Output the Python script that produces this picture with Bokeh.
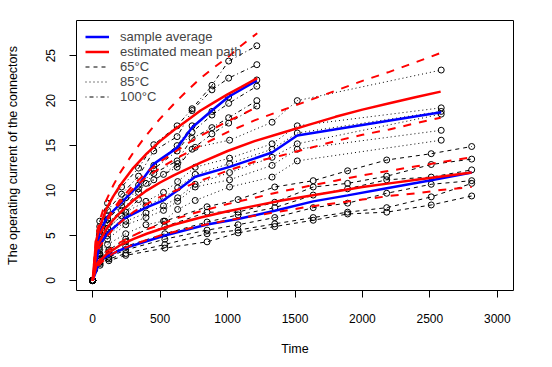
import numpy as np
from bokeh.plotting import figure
from bokeh.models import Range1d, FixedTicker, Legend, LegendItem
from bokeh.embed import file_html
from bokeh.resources import INLINE

# ---------------- data ----------------
# 100 degC units (dot-dash), measurement times
t100 = [0, 52, 110, 214, 340, 453, 626, 737, 884, 1008, 1217]
u100_a = [0, 6.6, 8.6, 10.4, 12.5, 15.1, 17.2, 19.1, 21.7, 24.4, 26.1]
u100_b = [0, 6.0, 7.8, 9.6, 11.6, 14.4, 16.0, 18.9, 21.2, 22.5, 24.0]
u100_c = [0, 5.5, 7.2, 8.7, 10.6, 12.8, 15.0, 17.2, 18.8, 20.4, 22.3]
u100_d = [0, 5.2, 6.8, 8.3, 10.2, 12.4, 14.4, 16.5, 18.4, 19.7, 21.6]
u100_e = [0, 4.9, 6.4, 7.8, 9.8, 11.9, 13.3, 15.8, 17.0, 18.1, 20.0]
u100_f = [0, 4.4, 5.8, 7.2, 9.0, 11.2, 12.6, 14.6, 16.3, 17.5, 19.4]

# 85 degC units (dotted)
t85 = [0, 50, 110, 245, 395, 525, 630, 760, 1015, 1330, 1517, 2584]
u85_a = [0, 5.0, 6.8, 9.2, 10.8, 11.8, 13.0, 14.8, 15.6, 17.6, 20.0, 23.4]
u85_b = [0, 4.4, 5.8, 7.6, 8.8, 9.8, 11.0, 12.6, 13.6, 15.2, 17.2, 19.2]
u85_c = [0, 4.0, 5.4, 7.2, 8.3, 9.2, 10.3, 11.8, 13.0, 14.6, 16.4, 18.8]
u85_d = [0, 3.7, 5.0, 6.6, 7.5, 8.3, 9.2, 10.7, 12.0, 13.7, 15.2, 18.5]
u85_e = [0, 3.4, 4.6, 6.2, 7.0, 7.8, 8.8, 10.4, 11.2, 12.8, 14.6, 16.7]
u85_f = [0, 3.0, 4.0, 5.2, 6.2, 6.6, 7.9, 8.9, 10.4, 11.5, 13.3, 15.6]

# 65 degC units (dashed)
t65 = [0, 55, 120, 245, 535, 848, 1078, 1350, 1635, 1890, 2180, 2510, 2810]
u65_a = [0, 2.9, 3.4, 4.6, 6.6, 8.2, 9.0, 10.4, 11.1, 12.2, 13.4, 14.1, 14.9]
u65_b = [0, 2.7, 3.2, 4.3, 6.0, 7.6, 7.6, 8.7, 10.4, 10.8, 11.6, 12.9, 13.5]
u65_c = [0, 2.4, 2.9, 3.8, 5.2, 6.5, 7.3, 8.1, 9.5, 10.2, 11.2, 11.5, 12.3]
u65_d = [0, 2.2, 2.6, 3.4, 4.6, 5.6, 6.2, 7.0, 8.1, 8.6, 9.7, 10.7, 11.1]
u65_e = [0, 1.9, 2.4, 3.0, 4.0, 5.2, 5.6, 6.3, 7.0, 7.6, 8.1, 9.3, 10.8]
u65_f = [0, 1.7, 2.2, 2.8, 3.6, 4.3, 5.3, 6.0, 6.7, 7.4, 7.6, 8.4, 9.4]

# estimated mean paths (red solid) and bands (red dashed)
g100 = [0, 25, 50, 100, 150, 200, 300, 400, 500, 600, 700, 800, 900, 1000, 1100, 1220]
m100 = [0, 4.4, 5.9, 7.9, 9.3, 10.5, 12.5, 14.1, 15.5, 16.7, 17.8, 18.9, 19.8, 20.7, 21.5, 22.5]
up100 = [0, 4.9, 6.6, 8.9, 10.5, 11.9, 14.2, 16.2, 18.0, 19.6, 21.1, 22.5, 23.7, 24.8, 26.1, 27.5]
lo100 = [0, 3.7, 5.0, 6.7, 7.9, 8.9, 10.6, 12.0, 13.2, 14.2, 15.2, 16.1, 16.9, 17.7, 18.4, 19.3]

g85 = [0, 25, 50, 100, 150, 200, 300, 400, 500, 600, 800, 1000, 1200, 1400, 1600, 1800, 2000, 2200, 2400, 2580]
m85 = [0, 3.3, 4.3, 5.7, 6.7, 7.5, 8.9, 10.0, 10.9, 11.7, 13.1, 14.4, 15.5, 16.4, 17.3, 18.2, 19.0, 19.7, 20.4, 21.0]
up85 = [0, 3.8, 5.0, 6.5, 7.7, 8.6, 10.2, 11.5, 12.5, 13.4, 15.0, 16.5, 17.8, 18.9, 20.0, 21.1, 22.2, 23.2, 24.3, 25.3]
lo85 = [0, 2.8, 3.7, 4.8, 5.7, 6.4, 7.6, 8.5, 9.3, 9.9, 11.1, 12.2, 13.2, 13.9, 14.7, 15.5, 16.2, 16.8, 17.5, 18.1]

g65 = [0, 25, 50, 100, 150, 200, 300, 400, 500, 600, 800, 1000, 1200, 1400, 1600, 1800, 2000, 2200, 2400, 2600, 2810]
m65 = [0, 1.6, 2.1, 2.9, 3.4, 3.9, 4.6, 5.2, 5.7, 6.2, 7.0, 7.7, 8.3, 8.9, 9.4, 9.9, 10.4, 10.8, 11.2, 11.6, 12.0]
up65 = [0, 1.8, 2.3, 3.2, 3.7, 4.2, 5.0, 5.7, 6.2, 6.8, 7.7, 8.5, 9.2, 9.9, 10.5, 11.1, 11.7, 12.2, 12.7, 13.2, 13.7]
lo65 = [0, 1.4, 1.8, 2.5, 3.0, 3.4, 4.0, 4.5, 5.0, 5.4, 6.1, 6.7, 7.2, 7.7, 8.2, 8.6, 9.0, 9.4, 9.7, 10.1, 10.4]

x_ticks = [0, 500, 1000, 1500, 2000, 2500, 3000]
y_ticks = [0, 5, 10, 15, 20, 25]

FONT = "Liberation Sans"

p = figure(width=544, height=359, x_range=Range1d(-120, 3120), y_range=Range1d(-1.11, 28.91),
           output_backend="svg", toolbar_location=None,
           min_border_left=76, min_border_right=31, min_border_top=20, min_border_bottom=69,
           x_axis_label="Time", y_axis_label="The operating current of the connectors")
p.outline_line_color = "black"
p.outline_line_width = 1
p.xgrid.visible = False
p.ygrid.visible = False
p.background_fill_color = "white"
p.border_fill_color = "white"

for ax, ticks in ((p.xaxis[0], x_ticks), (p.yaxis[0], y_ticks)):
    ax.ticker = FixedTicker(ticks=ticks)
    ax.axis_line_color = None
    ax.major_tick_in = 0
    ax.major_tick_out = 7
    ax.major_tick_line_color = "black"
    ax.minor_tick_line_color = None
    ax.major_label_text_font = FONT
    ax.major_label_text_font_size = "12px"
    ax.major_label_text_color = "black"
    ax.axis_label_text_font = FONT
    ax.axis_label_text_font_size = "12.5px"
    ax.axis_label_text_font_style = "normal"
    ax.axis_label_text_color = "black"

p.xaxis.major_label_standoff = 16
p.xaxis.axis_label_standoff = 16
p.yaxis.major_label_orientation = "vertical"
p.yaxis.major_label_standoff = 14
p.yaxis.axis_label_standoff = 24

groups = [
    (t65, [u65_a, u65_b, u65_c, u65_d, u65_e, u65_f], "4 4"),
    (t85, [u85_a, u85_b, u85_c, u85_d, u85_e, u85_f], "1 3"),
    (t100, [u100_a, u100_b, u100_c, u100_d, u100_e, u100_f], "1 3 4 3"),
]
first_line = []
for t, units, dash in groups:
    rs = []
    for u in units:
        r = p.line(t, u, line_color="black", line_width=1, line_dash=dash)
        p.scatter(t, u, marker="circle", size=6, fill_color=None, line_color="black", line_width=1)
        rs.append(r)
    first_line.append(rs[0])

blue_rs = []
for t, units, dash in groups:
    avg = np.mean(np.array(units), axis=0)
    blue_rs.append(p.line(t, avg, line_color="#0000FF", line_width=2.5))

red_rs = []
for g, m, up, lo in ((g65, m65, up65, lo65), (g85, m85, up85, lo85), (g100, m100, up100, lo100)):
    red_rs.append(p.line(g, m, line_color="#FF0000", line_width=2.5))
    p.line(g, up, line_color="#FF0000", line_width=2, line_dash="8 8")
    p.line(g, lo, line_color="#FF0000", line_width=2, line_dash="8 8")

legend = Legend(items=[
    LegendItem(label="sample average", renderers=[blue_rs[0]]),
    LegendItem(label="estimated mean path", renderers=[red_rs[0]]),
    LegendItem(label="65\u00b0C", renderers=[first_line[0]]),
    LegendItem(label="85\u00b0C", renderers=[first_line[1]]),
    LegendItem(label="100\u00b0C", renderers=[first_line[2]]),
], location="top_left")
legend.border_line_color = None
legend.background_fill_alpha = 0
legend.label_text_font = FONT
legend.label_text_font_size = "13px"
legend.glyph_width = 24
legend.glyph_height = 15
legend.label_height = 15
legend.label_standoff = 11
legend.spacing = 0
legend.padding = 10
legend.margin = 9
p.add_layout(legend)

open("out.html", "w").write(file_html(p, INLINE))
